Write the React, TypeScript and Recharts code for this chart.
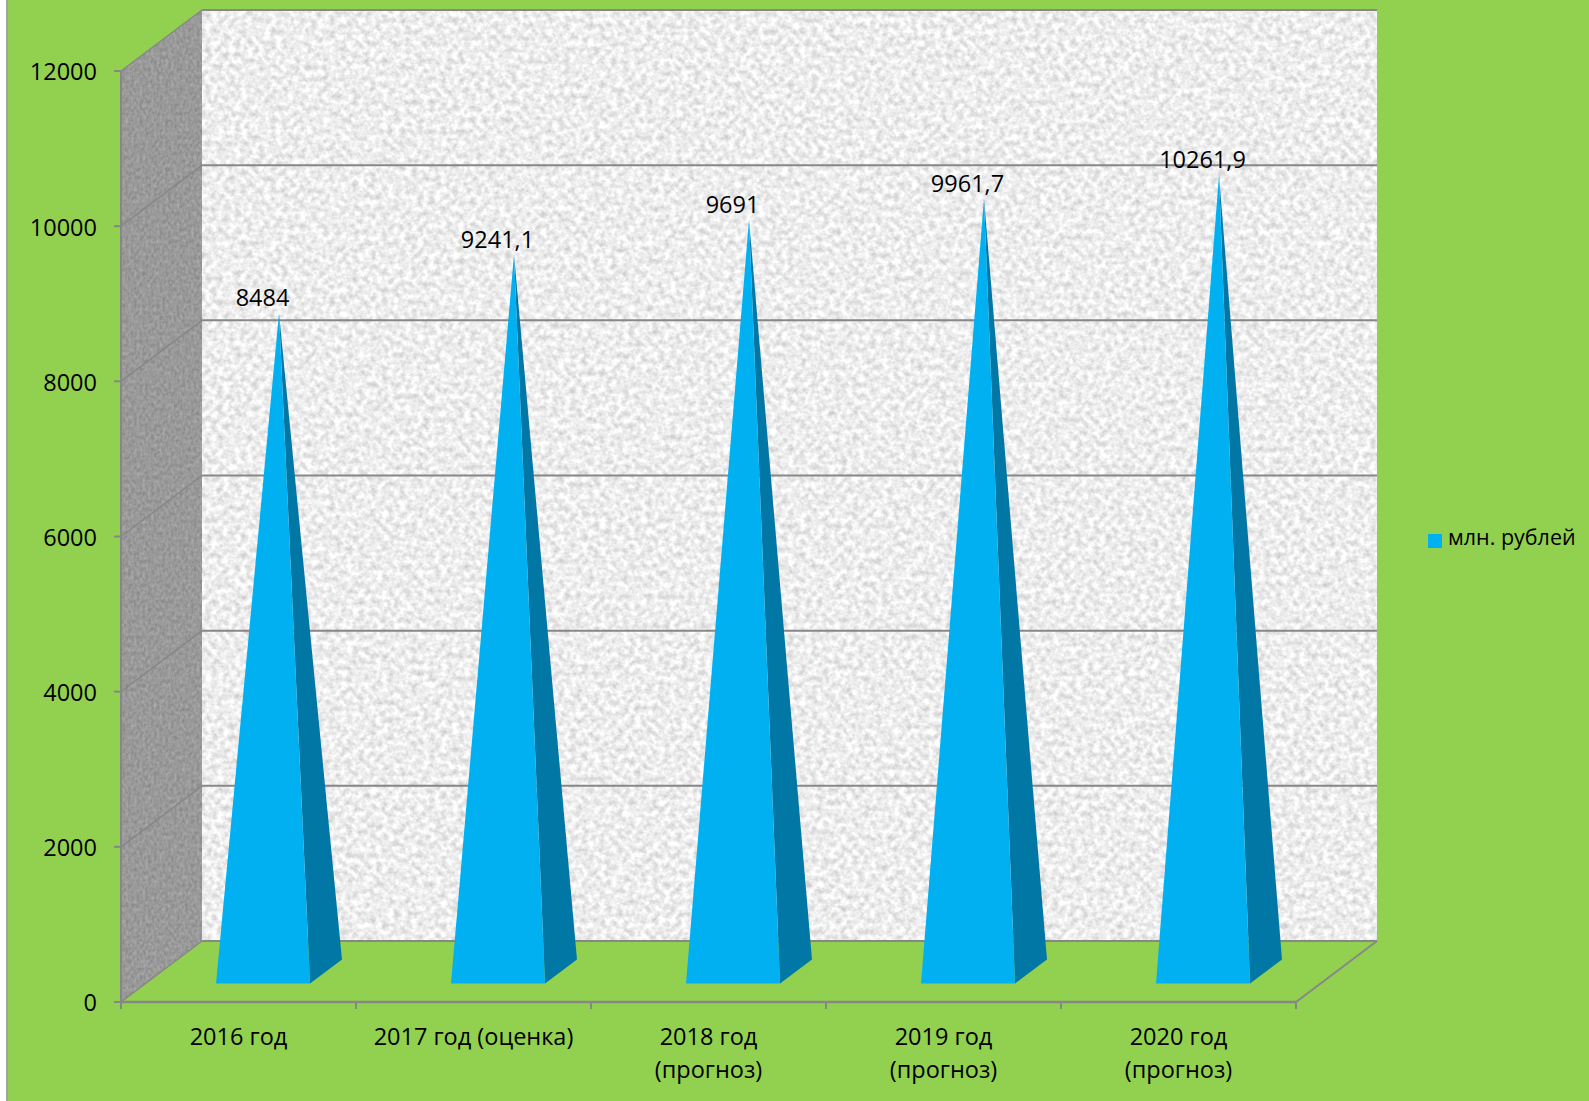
import React from 'react';
import { BarChart, Bar, XAxis, YAxis, CartesianGrid, Legend, LabelList, usePlotArea } from 'recharts';

const categories = ['2016 год', '2017 год (оценка)', '2018 год\n(прогноз)', '2019 год\n(прогноз)', '2020 год\n(прогноз)'];
const values = [8484, 9241.1, 9691, 9961.7, 10261.9];
const yTicks = [0, 2000, 4000, 6000, 8000, 10000, 12000];
const seriesName = 'млн. рублей';

const data = categories.map((category, i) => ({ category, value: values[i] }));

const WIDTH = 1589;
const HEIGHT = 1101;
const margin = { top: 71, right: 293, bottom: 0, left: 0 };
const axisWidth = 121;
const axisHeight = 99;

// fake 3D: how far the back wall sits from the front plane
const DEPTH_X = 81;
const DEPTH_Y = 61;

const FONT = '"Open Sans", sans-serif';
const FONT_SIZE = 23.5;
const LINE = '#878787';
const GREEN = '#92d14f';

const Walls = () => {
  const plot = usePlotArea();
  if (!plot) return null;
  const left = plot.x;
  const right = plot.x + plot.width;
  const top = plot.y;
  const bottom = plot.y + plot.height;
  const side = [
    [left, top],
    [left + DEPTH_X, top - DEPTH_Y],
    [left + DEPTH_X, bottom - DEPTH_Y],
    [left, bottom],
  ].join(' ');
  return (
    <g>
      <defs>
        <filter id="stone" x="0" y="0" width="100%" height="100%" colorInterpolationFilters="sRGB">
          <feTurbulence type="fractalNoise" baseFrequency="0.17" numOctaves="4" seed="7" />
          <feColorMatrix type="matrix" values="0.34 0 0 0 0.76  0.34 0 0 0 0.76  0.34 0 0 0 0.76  0 0 0 0 1" />
          <feComposite in2="SourceAlpha" operator="in" />
        </filter>
        <filter id="sideStone" x="0" y="0" width="100%" height="100%" colorInterpolationFilters="sRGB">
          <feTurbulence type="fractalNoise" baseFrequency="0.35 0.25" numOctaves="3" seed="4" />
          <feColorMatrix type="matrix" values="0.2 0 0 0 0.5  0.2 0 0 0 0.5  0.2 0 0 0 0.5  0 0 0 0 1" />
          <feComposite in2="SourceAlpha" operator="in" />
        </filter>
      </defs>
      <rect
        x={left + DEPTH_X}
        y={top - DEPTH_Y}
        width={plot.width}
        height={plot.height}
        fill="#eee"
        filter="url(#stone)"
      />
      <polygon points={side} fill="#999" filter="url(#sideStone)" />
      <line x1={right} y1={bottom} x2={right + DEPTH_X} y2={bottom - DEPTH_Y} stroke={LINE} strokeWidth={2} />
    </g>
  );
};

// each horizontal grid line runs up the side wall and along the back wall
const WallGridLine = (props: any) => {
  const { x1, x2, y1, index } = props;
  return (
    <g key={index}>
      <line x1={x1} y1={y1} x2={x1 + DEPTH_X} y2={y1 - DEPTH_Y} stroke={LINE} strokeWidth={1.5} />
      <line x1={x1 + DEPTH_X} y1={y1 - DEPTH_Y} x2={x2 + DEPTH_X} y2={y1 - DEPTH_Y} stroke={LINE} strokeWidth={2} />
    </g>
  );
};

const Pyramid = (props: any) => {
  const { x, y, width, height } = props;
  const half = width / 2;
  const cx = x + half + DEPTH_X / 2;
  const tip = y - DEPTH_Y / 2;
  const base = y + height - DEPTH_Y / 2;
  // base square seen at the same angle as the floor
  const skewX = half * 0.34;
  const skewY = half * 0.255;
  const frontLeft = [cx - half - skewX, base + skewY];
  const frontRight = [cx + half - skewX, base + skewY];
  const backRight = [cx + half + skewX, base - skewY];
  const apex = [cx, tip];
  return (
    <g>
      <polygon points={[frontRight, backRight, apex].join(' ')} fill="#0077a5" />
      <polygon points={[frontLeft, frontRight, apex].join(' ')} fill="#00b0f0" />
    </g>
  );
};

const PeakLabel = (props: any) => {
  const { x, y, width, value } = props;
  return (
    <text
      x={x + width / 2 + 24}
      y={y - DEPTH_Y / 2 - 16}
      textAnchor="middle"
      dominantBaseline="central"
      fontFamily={FONT}
      fontSize={FONT_SIZE}
      fill="#000"
    >
      {String(value).replace('.', ',')}
    </text>
  );
};

const CategoryTick = (props: any) => {
  const { x, y, payload, index } = props;
  const band = (WIDTH - margin.right - axisWidth) / categories.length;
  const lines = String(payload.value).split('\n');
  return (
    <g>
      <line x1={x - band / 2} y1={y} x2={x - band / 2} y2={y + 7} stroke={LINE} strokeWidth={2} />
      {index === categories.length - 1 && (
        <line x1={x + band / 2} y1={y} x2={x + band / 2} y2={y + 7} stroke={LINE} strokeWidth={2} />
      )}
      {lines.map((line, i) => (
        <text
          key={line}
          x={x}
          y={y + 34 + i * 33}
          textAnchor="middle"
          dominantBaseline="central"
          fontFamily={FONT}
          fontSize={FONT_SIZE}
          fill="#000"
        >
          {line}
        </text>
      ))}
    </g>
  );
};

const App = () => {
  return (
    <div style={{ position: 'absolute', left: 0, top: 0, width: WIDTH, height: HEIGHT, background: '#fff', overflow: 'hidden' }}>
      <div
        style={{
          position: 'absolute',
          left: 6,
          top: 0,
          width: WIDTH - 8,
          height: HEIGHT,
          background: GREEN,
          borderLeft: '2px solid #a3a3a3',
        }}
      />
      <div style={{ position: 'absolute', left: 0, top: 0 }}>
        <BarChart width={WIDTH} height={HEIGHT} data={data} margin={margin} barCategoryGap="30%">
          <Walls />
          <CartesianGrid horizontal={WallGridLine} vertical={false} zIndex={1} />
          <XAxis
            dataKey="category"
            height={axisHeight}
            interval={0}
            axisLine={{ stroke: LINE, strokeWidth: 2.5 }}
            tickLine={false}
            tickSize={0}
            tickMargin={0}
            tick={CategoryTick}
          />
          <YAxis
            width={axisWidth}
            domain={[0, 12000]}
            ticks={yTicks}
            interval={0}
            axisLine={{ stroke: LINE, strokeWidth: 2 }}
            tickLine={{ stroke: LINE, strokeWidth: 2 }}
            tickSize={7}
            tickMargin={17}
            tick={{ fontFamily: FONT, fontSize: FONT_SIZE, fill: '#000', dy: 1 }}
          />
          <Legend
            layout="vertical"
            align="center"
            verticalAlign="middle"
            iconType="square"
            iconSize={14}
            wrapperStyle={{ left: 1428, top: 522, width: 160 }}
            formatter={(value) => (
              <span style={{ color: '#000', fontFamily: FONT, fontSize: 21.5, paddingLeft: 2 }}>{value}</span>
            )}
          />
          <Bar dataKey="value" name={seriesName} fill="#00b0f0" shape={Pyramid} isAnimationActive={false}>
            <LabelList dataKey="value" content={PeakLabel} />
          </Bar>
        </BarChart>
      </div>
    </div>
  );
};

export default App;
